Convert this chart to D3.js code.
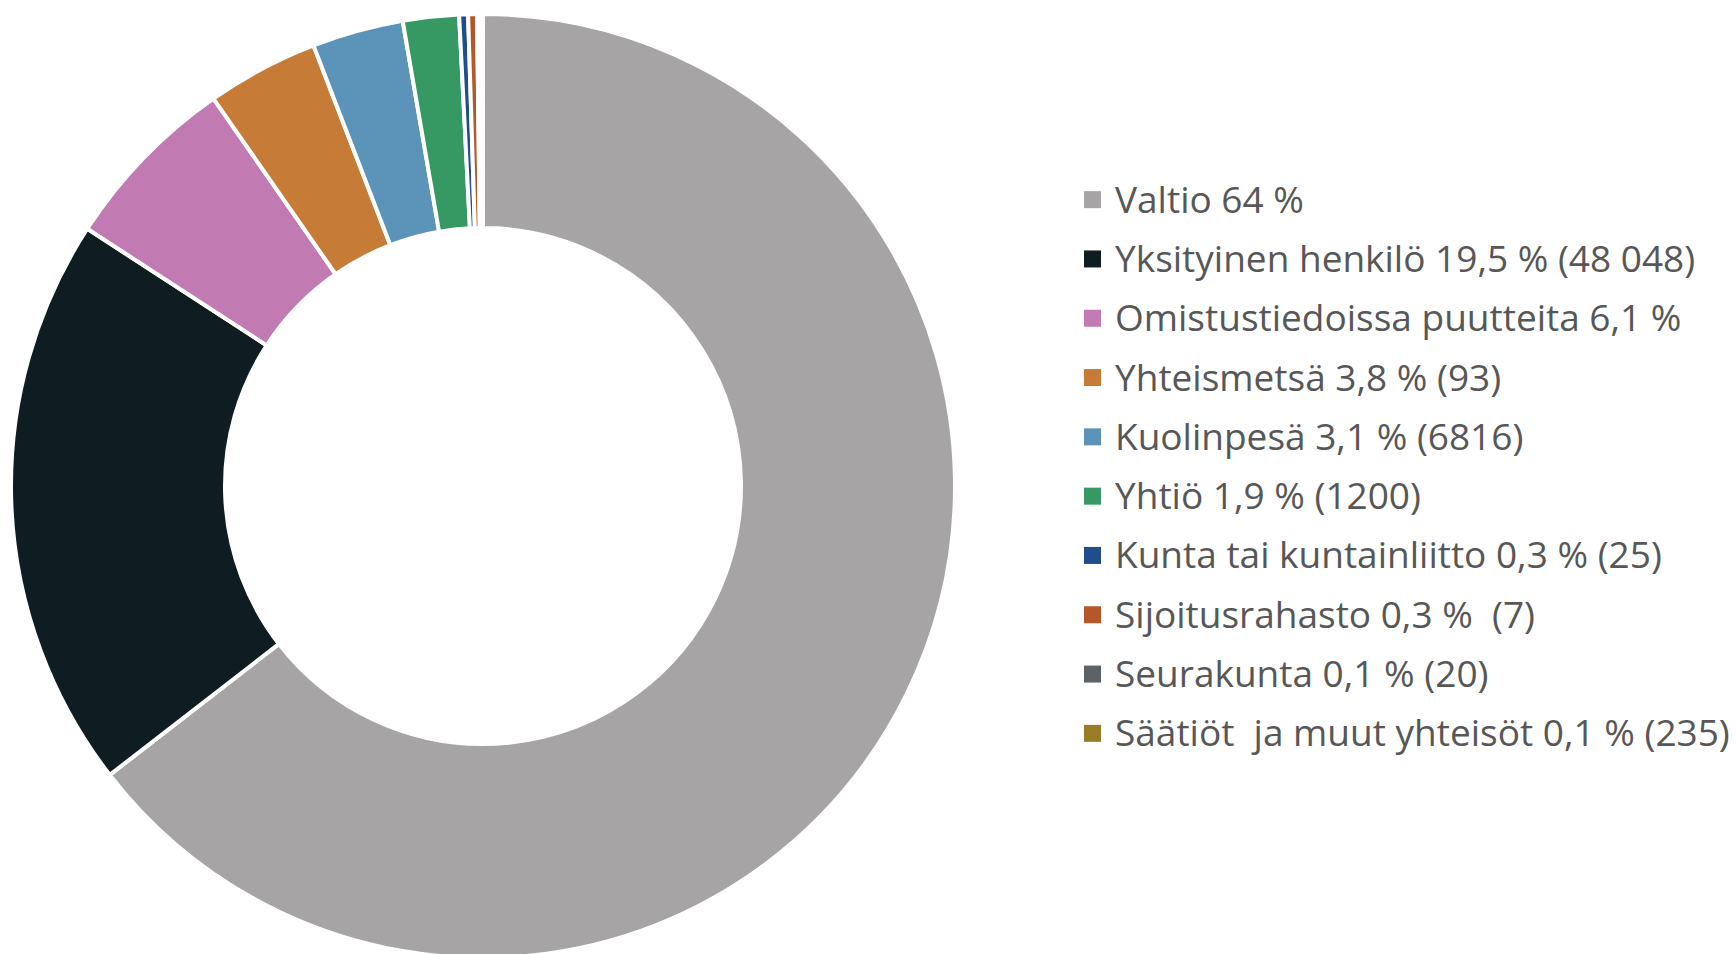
<!DOCTYPE html>
<html>
<head>
<meta charset="utf-8">
<script src="https://cdn.jsdelivr.net/npm/d3@7"></script>
<style>
  body { margin: 0; background: #fff; }
  svg { display: block; }
</style>
</head>
<body>
<div id="chart"></div>
<script>
(function () {

  // owner categories, share (%) and legend labels
  const categories = ["Valtio", "Yksityinen henkilö", "Omistustiedoissa puutteita", "Yhteismetsä",
    "Kuolinpesä", "Yhtiö", "Kunta tai kuntainliitto", "Sijoitusrahasto", "Seurakunta", "Säätiöt  ja muut yhteisöt"];
  const shares = [64, 19.5, 6.1, 3.8, 3.1, 1.9, 0.3, 0.3, 0.1, 0.1];
  const labels = ["Valtio 64 %", "Yksityinen henkilö 19,5 % (48 048)", "Omistustiedoissa puutteita 6,1 %",
    "Yhteismetsä 3,8 % (93)", "Kuolinpesä 3,1 % (6816)", "Yhtiö 1,9 % (1200)",
    "Kunta tai kuntainliitto 0,3 % (25)", "Sijoitusrahasto 0,3 %  (7)", "Seurakunta 0,1 % (20)",
    "Säätiöt  ja muut yhteisöt 0,1 % (235)"];
  const colors = ["#a6a4a5", "#0f1d22", "#c27bb2", "#c67c36", "#5b93b9", "#369862",
    "#1f4e8c", "#b4582a", "#5d6266", "#9a7b26"];

  const width = 1736, height = 954;
  const cx = 483, cy = 486, outerR = 472, innerR = 258;

  let data = categories.map((c, i) => ({ name: c, value: shares[i], label: labels[i] }));

  let svg = d3.select("#chart")
    .append("svg")
      .attr("width", width)
      .attr("height", height)
      .style("font-family", "'Open Sans', sans-serif");

  let color = d3.scaleOrdinal()
    .domain(categories)
    .range(colors);

  let pie = d3.pie()
    .sort(null)
    .value(d => d.value);

  let arc = d3.arc()
    .innerRadius(innerR)
    .outerRadius(outerR);

  // donut slices
  svg.append("g")
      .attr("transform", "translate(" + cx + "," + cy + ")")
    .selectAll("path")
    .data(pie(data))
    .enter()
    .append("path")
      .attr("d", arc)
      .attr("fill", d => color(d.data.name))
      .attr("stroke", "#fff")
      .attr("stroke-width", 4)
      .attr("stroke-linejoin", "miter");

  // legend on the right
  let y = d3.scaleBand()
    .domain(categories)
    .range([170, 170 + 59.3 * categories.length]);

  let legend = svg.append("g")
    .selectAll("g")
    .data(data)
    .enter()
    .append("g")
      .attr("transform", d => "translate(1084," + (y(d.name) + y.bandwidth() / 2) + ")");

  legend.append("rect")
      .attr("x", 0)
      .attr("y", -8.5)
      .attr("width", 17)
      .attr("height", 17)
      .attr("fill", d => color(d.name));

  legend.append("text")
      .attr("x", 31)
      .attr("dy", "0.35em")
      .style("font-size", "37px")
      .style("white-space", "pre")
      .style("fill", "#575757")
      .text(d => d.label);

})();
</script>
</body>
</html>
